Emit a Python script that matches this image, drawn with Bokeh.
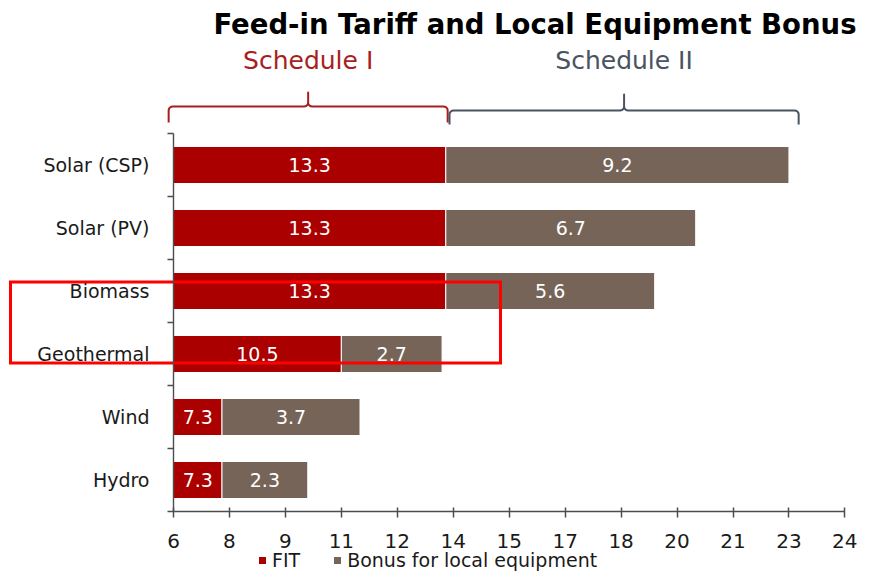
import math
from bokeh.plotting import figure
from bokeh.models import (Range1d, LinearAxis, FixedTicker, ColumnDataSource,
                          Legend, LegendItem)
from bokeh.core.properties import value
from bokeh.embed import file_html
from bokeh.resources import INLINE

# ---------------- data ----------------
title_text = "Feed-in Tariff and Local Equipment Bonus"
categories = ["Solar (CSP)", "Solar (PV)", "Biomass", "Geothermal", "Wind", "Hydro"]
fit = [13.3, 13.3, 13.3, 10.5, 7.3, 7.3]
bonus = [9.2, 6.7, 5.6, 2.7, 3.7, 2.3]
series_names = ["FIT", "Bonus for local equipment"]
x_ticks = [6, 7.5, 9, 10.5, 12, 13.5, 15, 16.5, 18, 19.5, 21, 22.5, 24]
x_tick_labels = ["6", "8", "9", "11", "12", "14", "15", "17", "18", "20", "21", "23", "24"]
axis_start = 6
axis_end = 24
schedule_names = ["Schedule I", "Schedule II"]
schedule_spans = [(5.87, 13.35), (13.40, 22.76)]
highlighted = ["Biomass", "Geothermal"]

# ---------------- styles / layout ----------------
FONT = "DejaVu Sans"
C_FIT = "#AA0000"
C_BONUS = "#776459"
C_SCHED = ["#A81E1E", "#4A5361"]
C_TEXT = "#1a1a1a"
C_AXIS = "#4d4d4d"

W, H = 857, 571
PX6 = 173.0          # pixel of x = axis_start
PPX = 37.3           # pixels per x unit
PY0 = 479.5          # pixel of the lowest category centre
PPY = 63.0           # pixels per category


def xd(px):
    return axis_start + (px - PX6) / PPX


def yd(py):
    return (PY0 - py) / PPY


def xp(x):
    return PX6 + (x - axis_start) * PPX


n = len(categories)
ypos = [n - 1 - i for i in range(n)]
ends = [f + b for f, b in zip(fit, bonus)]

p = figure(width=W, height=H, output_backend="svg", toolbar_location=None,
           x_range=Range1d(xd(0), xd(W)), y_range=Range1d(yd(H), yd(0)),
           x_axis_location=None, y_axis_location=None,
           min_border=0, min_border_left=0, min_border_right=0,
           min_border_top=0, min_border_bottom=0)
p.outline_line_color = None
p.xgrid.visible = False
p.ygrid.visible = False
p.background_fill_color = "white"
p.border_fill_color = "white"

src = ColumnDataSource(dict(
    y=ypos, start=[axis_start] * n, fit=fit, end=ends,
    fit_mid=[(axis_start + f) / 2 for f in fit],
    bonus_mid=[f + b / 2 for f, b in zip(fit, bonus)],
    fit_lab=[f"{v:.1f}" for v in fit],
    bonus_lab=[f"{v:.1f}" for v in bonus],
))

BAR_H = 37 / PPY
r_fit = p.hbar(y="y", left="start", right="fit", height=BAR_H, source=src,
               fill_color=C_FIT, line_color="white", line_width=1)
r_bonus = p.hbar(y="y", left="fit", right="end", height=BAR_H, source=src,
                 fill_color=C_BONUS, line_color="white", line_width=1)

p.text(x="fit_mid", y="y", text="fit_lab", source=src, text_color="white",
       text_align="center", text_baseline="middle",
       text_font=value(FONT), text_font_size="19px")
p.text(x="bonus_mid", y="y", text="bonus_lab", source=src, text_color="white",
       text_align="center", text_baseline="middle",
       text_font=value(FONT), text_font_size="19px")

# ---------------- axes ----------------
xaxis = LinearAxis(fixed_location=-0.5, bounds=(axis_start, axis_end))
xaxis.ticker = FixedTicker(ticks=x_ticks)
xaxis.major_label_overrides = {
    (int(t) if float(t).is_integer() else t): lab for t, lab in zip(x_ticks, x_tick_labels)
}
xaxis.axis_line_color = C_AXIS
xaxis.axis_line_width = 1.6
xaxis.major_tick_line_color = C_AXIS
xaxis.major_tick_line_width = 1.5
xaxis.major_tick_in = 4
xaxis.major_tick_out = 6
xaxis.minor_tick_line_color = None
xaxis.major_label_standoff = 16
xaxis.major_label_text_font = FONT
xaxis.major_label_text_font_size = "20px"
xaxis.major_label_text_color = C_TEXT
p.add_layout(xaxis, "below")

yaxis = LinearAxis(fixed_location=axis_start, bounds=(-0.5, n - 0.5))
yaxis.ticker = FixedTicker(ticks=ypos, minor_ticks=[v + 0.5 for v in range(-1, n)])
yaxis.major_label_overrides = {y: c for y, c in zip(ypos, categories)}
yaxis.axis_line_color = C_AXIS
yaxis.axis_line_width = 1.4
yaxis.major_tick_line_color = None
yaxis.major_tick_in = 0
yaxis.major_tick_out = 0
yaxis.minor_tick_line_color = C_AXIS
yaxis.minor_tick_line_width = 1.4
yaxis.minor_tick_in = 0
yaxis.minor_tick_out = 6
yaxis.major_label_standoff = 18
yaxis.major_label_text_font = FONT
yaxis.major_label_text_font_size = "19px"
yaxis.major_label_text_color = C_TEXT
p.add_layout(yaxis, "left")


# ---------------- schedule braces ----------------
def brace(x0, x1, yh, ylow, ytop, r=4.0, k=6):
    xm = (x0 + x1) / 2
    pts = [(x0, ylow), (x0, yh + r)]
    for i in range(1, k + 1):  # left corner
        a = math.pi + (math.pi / 2) * i / k
        pts.append((x0 + r + r * math.cos(a), yh + r + r * math.sin(a)))
    pts.append((xm - r, yh))
    for i in range(1, k + 1):  # up into spike
        a = math.pi / 2 - (math.pi / 2) * i / k
        pts.append((xm - r + r * math.cos(a), yh - r + r * math.sin(a)))
    pts.append((xm, ytop))
    pts.append((xm, yh - r))
    for i in range(1, k + 1):  # down out of spike
        a = math.pi - (math.pi / 2) * i / k
        pts.append((xm + r + r * math.cos(a), yh - r + r * math.sin(a)))
    pts.append((x1 - r, yh))
    for i in range(1, k + 1):  # right corner
        a = 1.5 * math.pi + (math.pi / 2) * i / k
        pts.append((x1 - r + r * math.cos(a), yh + r + r * math.sin(a)))
    pts.append((x1, ylow))
    return [xd(a) for a, _ in pts], [yd(b) for _, b in pts]


brace_levels = [(106, 122, 92), (110, 124, 94)]
for (s0, s1), name, col, (yh, ylow, ytop) in zip(schedule_spans, schedule_names,
                                                  C_SCHED, brace_levels):
    bx, by = brace(xp(s0), xp(s1), yh, ylow, ytop)
    p.line(bx, by, line_color=col, line_width=2, line_join="round")
    p.text(x=[(s0 + s1) / 2], y=[yd(60)], text=[name], text_color=col,
           text_align="center", text_baseline="middle",
           text_font=value(FONT), text_font_size="25px")

# ---------------- title ----------------
p.text(x=[xd(856)], y=[yd(23)], text=[title_text], text_color="black",
       text_align="right", text_baseline="middle", text_font=value(FONT),
       text_font_size="27.5px", text_font_style="bold")

# ---------------- highlight box ----------------
hi = [ypos[categories.index(c)] for c in highlighted]
p.quad(left=[xd(10)], right=[xd(500)], top=[max(hi) + 9 / PPY],
       bottom=[min(hi) - 9 / PPY], fill_alpha=0, line_color="#FF0000",
       line_width=3, line_join="miter")

# ---------------- legend ----------------
legend = Legend(items=[LegendItem(label=series_names[0], renderers=[r_fit]),
                       LegendItem(label=series_names[1], renderers=[r_bonus])],
                location=(257, 0), orientation="horizontal",
                glyph_width=10, glyph_height=10, label_standoff=5, spacing=32,
                padding=0, margin=0, label_height=20,
                border_line_color=None, background_fill_alpha=0,
                label_text_font=FONT, label_text_font_size="19px",
                label_text_color=C_TEXT)
p.add_layout(legend)

open("out.html", "w").write(file_html(p, INLINE))
